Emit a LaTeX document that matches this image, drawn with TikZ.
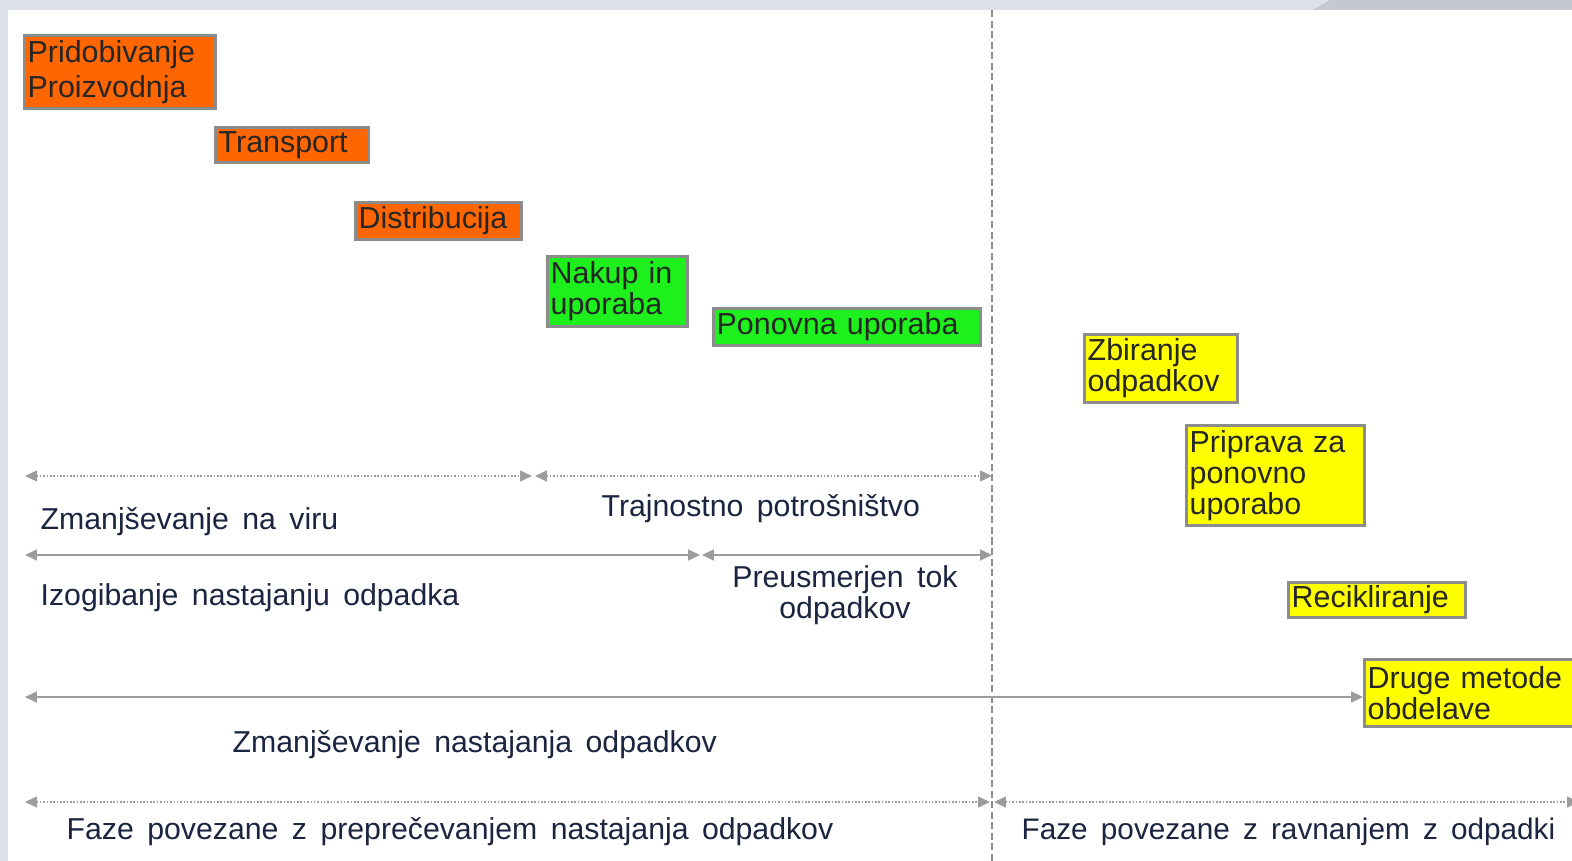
\documentclass[tikz,border=0pt]{standalone}
\usepackage{fontspec}
\setmainfont[WordSpace=1.8]{Liberation Sans}
\newfontfamily\lblfont[WordSpace=1.6]{Liberation Sans}
\usetikzlibrary{arrows.meta}

\definecolor{phaseor}{HTML}{FF6600}
\definecolor{phasegr}{HTML}{1EF01E}
\definecolor{phaseye}{HTML}{FFFF00}
\definecolor{boxline}{HTML}{8C8C8C}
\definecolor{arrgray}{HTML}{9C9C9C}
\definecolor{lbltext}{HTML}{1B2440}
\definecolor{bgband}{HTML}{DCE0E8}
\definecolor{bgcorner}{HTML}{C4C8D0}

\begin{document}
\begin{tikzpicture}[x=0.01cm,y=-0.01cm,>={Triangle[length=3.4pt,width=3.1pt]}]
        \tikzstyle{phase}=[rectangle,draw=boxline,line width=0.85pt,anchor=north west,align=left,inner xsep=0.9pt,inner ysep=0pt,text=black!85,font=\fontsize{8.65}{8.8}\selectfont]
        \tikzstyle{supplybox}=[phase,fill=phaseor]
        \tikzstyle{consumebox}=[phase,fill=phasegr]
        \tikzstyle{wastebox}=[phase,fill=phaseye]
        \tikzstyle{phasetext}=[inner sep=0pt,text=lbltext,font=\lblfont\fontsize{8.6}{8.8}\selectfont]
        \tikzstyle{solidarr}=[<->,draw=arrgray,line width=0.57pt]
        \tikzstyle{dotarr}=[<->,draw=arrgray,line width=0.45pt,dash pattern=on 0.45pt off 0.5pt]
        \tikzstyle{divider}=[draw=boxline,line width=0.4pt,dash pattern=on 2pt off 1pt]
        \useasboundingbox (0,0) rectangle (1572,861);
        \clip (0,0) rectangle (1572,861);
        % slide background
        \fill[bgband] (0,0) rectangle (1572,861);
        \fill[bgcorner] (1313,10) -- (1330,0) -- (1572,0) -- (1572,10) -- cycle;
        \fill[white] (8,10) rectangle (1572,861);
        \coordinate (top) at (992,10);
        \coordinate (bottom) at (992,861);
        \draw[divider] (top) -- (bottom);
        \begin{scope}
        \node[supplybox,text width=1.91cm-1.8pt,minimum height=0.73cm] (pp) at (23,34) {Pridobivanje\\[1.2pt]Proizvodnja};
        \node[supplybox,text width=1.53cm-1.8pt,minimum height=0.35cm] (tr) at (214,126) {Transport};
        \node[supplybox,text width=1.66cm-1.8pt,minimum height=0.37cm] (di) at (354,201) {Distribucija};
        \node[consumebox,text width=1.40cm-1.8pt,minimum height=0.70cm] (nu) at (546,255) {Nakup in\\uporaba};
        \node[consumebox,text width=2.67cm-1.8pt,minimum height=0.37cm] (pu) at (712,307) {Ponovna uporaba};
        \node[wastebox,text width=1.53cm-1.8pt,minimum height=0.68cm] (zo) at (1083,333) {Zbiranje\\odpadkov};
        \node[wastebox,text width=1.78cm-1.8pt,minimum height=1.00cm] (pr) at (1185,424) {Priprava za\\ponovno\\uporabo};
        \node[wastebox,text width=1.77cm-1.8pt,minimum height=0.35cm] (re) at (1287,581) {Recikliranje};
        \node[wastebox,text width=2.40cm-1.8pt,minimum height=0.67cm] (dm) at (1363,658) {Druge metode\\obdelave};
        \end{scope}
        % spans
        \coordinate (a1) at (25,476);  \coordinate (b1) at (532,476);
        \coordinate (c1) at (535,476); \coordinate (d1) at (992,476);
        \coordinate (a2) at (25,555);  \coordinate (b2) at (700,555);
        \coordinate (c2) at (702,555); \coordinate (d2) at (992,555);
        \coordinate (a3) at (25,697);
        \coordinate (a4) at (25,802);  \coordinate (b4) at (990,802);
        \coordinate (c4) at (994,802); \coordinate (d4) at (1579,802);
        \draw[dotarr] (a1) -- (b1);
        \draw[dotarr] (c1) -- (d1);
        \draw[solidarr] (a2) -- (b2);
        \draw[solidarr] (c2) -- (d2);
        \draw[solidarr] (a3) -- (a3 -| dm.west);
        \draw[dotarr] (a4) -- (b4);
        \draw[dotarr] (c4) -- (d4);
        \node[phasetext,anchor=base west] (viru) at (40,530) {Zmanjševanje na viru};
        \node[phasetext,anchor=base west] (trajn) at (601,517) {Trajnostno potrošništvo};
        \node[phasetext,anchor=base west] (izog) at (40,606) {Izogibanje nastajanju odpadka};
        \node[phasetext,align=center,anchor=north] (preus) at (845,565) {Preusmerjen tok\\odpadkov};
        \node[phasetext,anchor=base west] (zmnast) at (232,752) {Zmanjševanje nastajanja odpadkov};
        \node[phasetext,anchor=base west] (fazepre) at (66,840) {Faze povezane z preprečevanjem nastajanja odpadkov};
        \node[phasetext,anchor=base west,font=\lblfont\fontsize{8.45}{8.8}\selectfont] (fazerav) at (1021,840) {Faze povezane z ravnanjem z odpadki};
\end{tikzpicture}
\end{document}
